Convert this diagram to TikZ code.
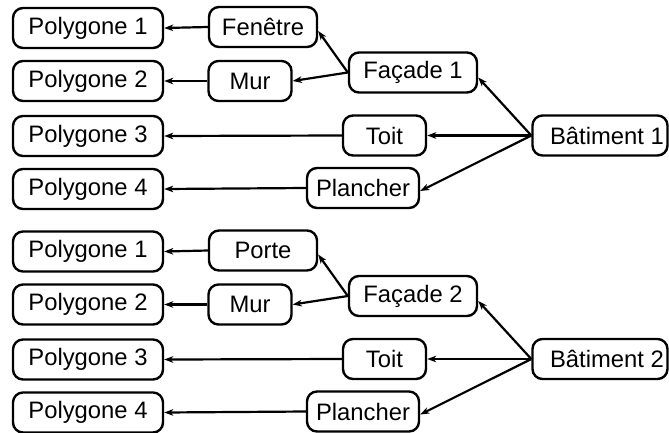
\documentclass[tikz,border=0pt]{standalone}
\usepackage{fontspec}
\setmainfont{Liberation Sans}
\usetikzlibrary{arrows.meta}
\begin{document}
\begin{tikzpicture}[x=1pt,y=-1pt,
  box/.style={draw, line width=2.4pt, rounded corners=10pt, inner sep=0pt,
    minimum height=40pt, font=\fontsize{23.8}{28}\selectfont},
  arr/.style={-{Stealth[length=9pt,width=6.5pt,inset=2.5pt]}, line width=2.2pt}]
\useasboundingbox (0,0) rectangle (669,432);
\foreach \g/\dy/\a/\b in {1/0/Fenêtre/1, 2/223.5/Porte/2}{
  \node[box, minimum width=150pt] (p1\g) at (88,28+\dy) {Polygone 1};
  \node[box, minimum width=150pt] (p2\g) at (88,81+\dy) {Polygone 2};
  \node[box, minimum width=150pt] (p3\g) at (88,136+\dy) {Polygone 3};
  \node[box, minimum width=150pt] (p4\g) at (88,189+\dy) {Polygone 4};
  \node[box, minimum width=108pt] (f\g) at (263,27+\dy) {\a};
  \node[box, minimum width=83pt] (m\g) at (250,81+\dy) {Mur};
  \node[box, minimum width=128pt] (fa\g) at (413,72.5+\dy) {Façade \b};
  \node[box, minimum width=83pt] (t\g) at (384.5,135.5+\dy) {Toit};
  \node[box, minimum width=135pt] (b\g) at (600,135.5+\dy) {\hspace*{14pt}Bâtiment \b};
  \node[box, minimum width=112pt] (pl\g) at (363,188+\dy) {Plancher};
  \draw[arr] (f\g.west) -- (p1\g.east);
  \draw[arr] (m\g.west) -- (p2\g.east);
  \draw[arr] (t\g.west) -- (p3\g.east);
  \draw[arr] (pl\g.west) -- (p4\g.east);
  \draw[arr] (fa\g.west) -- ([yshift=-4pt]f\g.east);
  \draw[arr] (fa\g.west) -- (m\g.east);
  \draw[arr] (b\g.west) -- ([yshift=-5pt]fa\g.east);
  \draw[arr] (b\g.west) -- (t\g.east);
  \draw[arr] (b\g.west) -- ([yshift=-3pt]pl\g.east);
}
\end{tikzpicture}
\end{document}
